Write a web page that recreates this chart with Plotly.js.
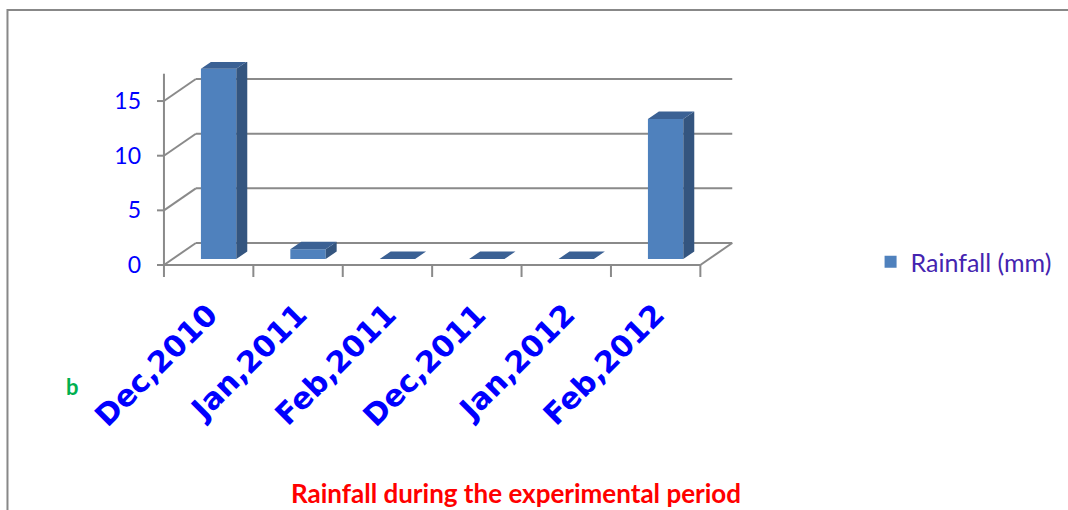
<!DOCTYPE html>
<html>
<head>
<meta charset="utf-8">
<script src="https://cdn.plot.ly/plotly-3.0.1.min.js"></script>
<style>html,body{margin:0;padding:0;background:#fff;}#chart{width:1068px;height:510px;}</style>
</head>
<body>
<div id="chart"></div>
<script>
// ---- data ----
const categories = ['Dec,2010', 'Jan,2011', 'Feb,2011', 'Dec,2011', 'Jan,2012', 'Feb,2012'];
const rainfall = [17.4, 0.9, 0, 0, 0, 12.8];
const yTickValues = [0, 5, 10, 15];
const yTickLabels = ['0', '5', '10', '15'];
const seriesName = 'Rainfall (mm)';
const chartTitle = 'Rainfall during the experimental period';
const panelLabel = 'b';

// ---- geometry (pixels) ----
const W = 1068, H = 510;
const ML = 150, MR = 320, MT = 62, MB = 228;
const PW = W - ML - MR, PH = H - MT - MB;
const U = 89.7;   // px per category
const V = 10.93;  // px per mm
const FRONT_LEFT_PX = 164, FLOOR_PX = 265;
const xmin = -0.5 - (FRONT_LEFT_PX - ML) / U, xmax = xmin + PW / U;
const ymin = -((H - MB) - FLOOR_PX) / V, ymax = ymin + PH / V;
const DX = 32 / U, DY = 22 / V;          // wall depth
const SX = 10 / U, SY = 6 / V;           // bar front offset into depth
const BW = 35.5 / U;                      // bar width
const BDX = 11 / U, BDY = 7.5 / V;       // bar depth
const AXIS_TOP = 17.5;
const TICK_DOWN = 12 / V, TICK_LEFT = 7 / U;
const GRID = '#8a8a8a';
const n = categories.length;
const xL = -0.5, xR = n - 0.5;

const px2paperX = p => (p - ML) / PW;
const px2paperY = p => ((H - MB) - p) / PH;

const shapes = [];
function seg(x0, y0, x1, y1) {
  shapes.push({type: 'line', xref: 'x', yref: 'y', x0, y0, x1, y1, layer: 'below',
    line: {color: GRID, width: 2}});
}
// back wall gridlines + left wall diagonals + y ticks
yTickValues.forEach(v => {
  seg(xL + DX, v + DY, xR + DX, v + DY);
  seg(xL, v, xL + DX, v + DY);
  seg(xL - TICK_LEFT, v, xL, v);
});
// floor front and right edge
seg(xL, 0, xR, 0);
seg(xR, 0, xR + DX, DY);
// front value axis
seg(xL, 0, xL, AXIS_TOP);
// category boundary ticks
for (let k = 0; k <= n; k++) seg(k - 0.5, 0, k - 0.5, -TICK_DOWN);
// outer frame
shapes.push({type: 'rect', xref: 'paper', yref: 'paper',
  x0: px2paperX(7), x1: px2paperX(1090), y0: px2paperY(530), y1: px2paperY(10),
  line: {color: '#888888', width: 2}, fillcolor: 'rgba(0,0,0,0)'});

// bar faces
const sideX = [], sideY = [], topX = [], topY = [];
rainfall.forEach((v, i) => {
  const l = i + SX - BW / 2, r = i + SX + BW / 2;
  const b = SY, t = SY + v;
  sideX.push(r, r + BDX, r + BDX, r, r, null);
  sideY.push(b, b + BDY, t + BDY, t, b, null);
  topX.push(l, r, r + BDX, l + BDX, l, null);
  topY.push(t, t, t + BDY, t + BDY, t, null);
});

const traces = [
  {type: 'bar', name: seriesName, x: categories.map((_, i) => i + SX), y: rainfall,
   base: SY, width: BW, marker: {color: '#4F81BD', line: {width: 0}}, hoverinfo: 'y'},
  {type: 'scatter', mode: 'lines', x: sideX, y: sideY, fill: 'toself',
   fillcolor: '#34557F', line: {width: 0, color: '#34557F'}, showlegend: false, hoverinfo: 'skip'},
  {type: 'scatter', mode: 'lines', x: topX, y: topY, fill: 'toself',
   fillcolor: '#3B6194', line: {width: 0, color: '#3B6194'}, showlegend: false, hoverinfo: 'skip'}
];

const layout = {
  width: W, height: H,
  margin: {l: ML, r: MR, t: MT, b: MB, pad: 0},
  paper_bgcolor: '#ffffff', plot_bgcolor: 'rgba(0,0,0,0)',
  showlegend: true,
  title: {text: chartTitle, x: 516 / W, xanchor: 'center', xref: 'container',
    y: (H - 494) / H, yanchor: 'middle', yref: 'container',
    font: {family: 'Lato, sans-serif', size: 26, weight: 'bold', color: '#FF0000'}},
  xaxis: {range: [xmin, xmax], tickvals: categories.map((_, i) => i), ticktext: categories,
    tickangle: -45, ticks: '', showgrid: false, zeroline: false, showline: false,
    ticklabelstandoff: 8,
    tickfont: {family: 'DejaVu Sans, sans-serif', size: 30, weight: 'bold', color: '#0000FF'},
    fixedrange: true},
  yaxis: {range: [ymin, ymax], tickvals: yTickValues, ticktext: yTickLabels,
    ticks: '', showgrid: false, zeroline: false, showline: false,
    ticklabelstandoff: 8,
    tickfont: {family: 'Lato, sans-serif', size: 23, color: '#0000FF'},
    fixedrange: true},
  legend: {x: px2paperX(873), y: px2paperY(262), xanchor: 'left', yanchor: 'middle',
    bgcolor: 'rgba(0,0,0,0)', font: {family: 'Lato, sans-serif', size: 25, color: '#4424B0'}},
  shapes: shapes,
  annotations: [
    {text: panelLabel, xref: 'paper', yref: 'paper', x: px2paperX(72.5), y: px2paperY(386),
     xanchor: 'center', yanchor: 'middle', showarrow: false,
     font: {family: 'Lato, sans-serif', size: 22, weight: 'bold', color: '#00B050'}}
  ]
};

Plotly.newPlot('chart', traces, layout, {displayModeBar: false, staticPlot: true});
</script>
</body>
</html>
